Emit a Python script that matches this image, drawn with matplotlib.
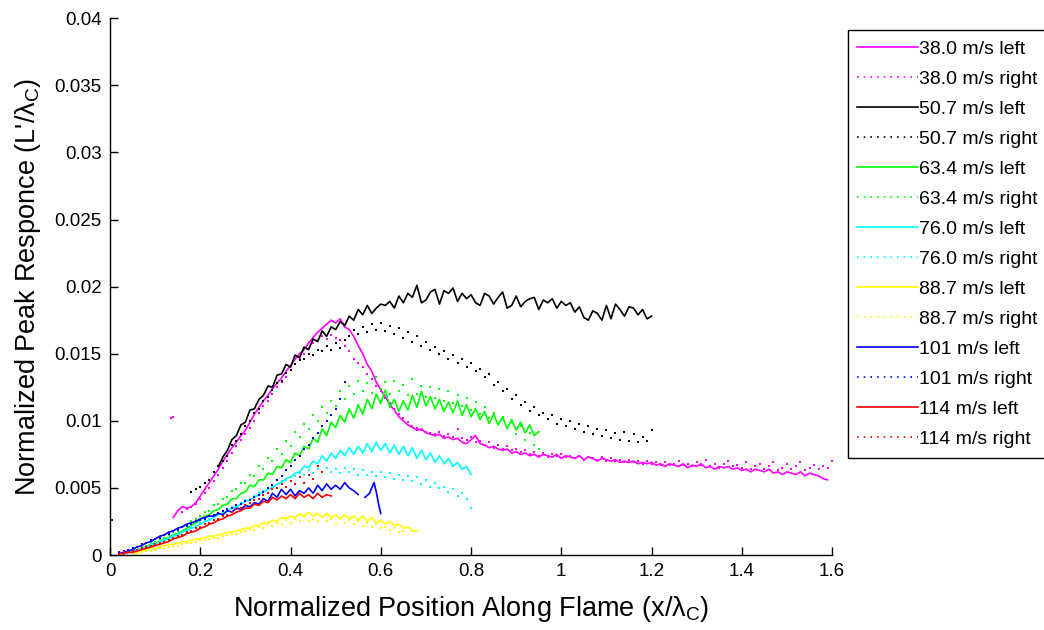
import numpy as np
import matplotlib
matplotlib.use("Agg")
import matplotlib.pyplot as plt
from matplotlib.lines import Line2D

plt.rcParams['font.family'] = ['Liberation Sans', 'DejaVu Sans']
plt.rcParams['mathtext.fontset'] = 'custom'
plt.rcParams['mathtext.rm'] = 'Liberation Sans'

# ---------------- data (y values in units of 1e-3, x grid step 0.01) ----------------
STEP = 0.01

m_left_x0 = 0.14
m_left = [2.8, 3.3, 3.6, 3.5, 3.6, 3.9, 4.4, 4.9, 5.4, 5.9, 6.4, 7.0, 7.5, 8.0, 8.4, 8.9, 9.3,
          9.9, 10.5, 11.0, 11.5, 11.9, 12.4, 12.8, 13.2, 13.7, 14.1, 14.6, 15.0, 15.3, 15.8, 16.2,
          16.6, 16.9, 17.2, 17.5, 17.3, 17.6, 17.0, 16.8, 16.3, 15.6, 15.0, 14.2, 13.7, 12.9, 12.3,
          11.8, 11.2, 10.8, 10.3, 10.0, 9.7, 9.5, 9.3, 9.4, 9.1, 9.0, 8.9, 9.0, 8.7, 8.8, 8.6, 8.7,
          8.4, 8.3, 8.6, 8.9, 8.3, 8.2, 8.0, 8.1, 7.9, 7.8, 7.9, 7.6, 7.7, 7.5, 7.6, 7.4, 7.5, 7.3,
          7.5, 7.4, 7.3, 7.5, 7.2, 7.4, 7.3, 7.2, 7.4, 7.1, 7.3, 7.2, 7.0, 7.2, 7.1, 7.0, 7.1, 6.9,
          7.0, 6.9, 7.0, 6.8, 6.9, 6.8, 6.9, 6.7, 6.8, 6.6, 6.8, 6.7, 6.6, 6.8, 6.5, 6.7, 6.6, 6.8,
          6.5, 6.6, 6.4, 6.6, 6.5, 6.6, 6.4, 6.5, 6.3, 6.4, 6.2, 6.4, 6.3, 6.2, 6.4, 6.1, 6.2, 6.0,
          6.2, 6.1, 6.0, 6.2, 5.9, 6.1, 6.0, 5.9, 5.7, 5.6]

m_right_x0 = 0.16
m_right = [3.2, 3.4, 3.6, 3.8, 4.2, 4.6, 5.0, 5.5, 6.0, 6.5, 7.0, 7.6, 8.1, 8.6, 9.0, 9.5, 10.0,
           10.6, 11.1, 11.5, 12.0, 12.5, 12.9, 13.3, 13.8, 14.2, 14.6, 15.0, 15.4, 15.8, 16.0, 16.3,
           16.1, 16.4, 16.2, 16.0, 15.6, 15.2, 14.6, 14.3, 14.0, 13.5, 13.1, 12.6, 12.2, 11.7, 11.3,
           10.9, 10.5, 10.2, 9.9, 9.6, 9.5, 9.3, 9.2, 9.1, 9.0, 9.2, 8.9, 9.0, 8.8, 9.4, 8.7, 8.6,
           8.8, 8.4, 8.5, 8.2, 8.4, 8.0, 8.2, 7.9, 8.1, 7.8, 7.9, 7.7, 7.8, 7.5, 7.7, 7.4, 7.6, 7.3,
           7.5, 7.4, 7.5, 7.3, 7.4, 7.2, 7.4, 7.1, 7.3, 7.2, 7.1, 7.3, 7.0, 7.2, 7.0, 7.1, 6.9, 7.1,
           6.9, 7.0, 6.8, 7.0, 6.8, 6.9, 6.7, 6.9, 6.7, 6.8, 7.0, 6.7, 6.8, 6.6, 6.9, 6.7, 7.1, 6.6,
           6.8, 6.5, 6.8, 7.0, 6.6, 6.7, 6.5, 6.9, 6.4, 6.6, 6.8, 6.4, 6.6, 6.9, 6.3, 6.5, 6.8, 6.4,
           6.6, 6.9, 6.3, 6.5, 6.7, 6.4, 6.6, 6.5, 7.0]
m_right_extra_x = [0.135, 0.14]
m_right_extra = [10.2, 10.3]

k_left_x0 = 0.24
k_left = [6.6, 7.3, 7.8, 8.6, 8.9, 9.7, 9.9, 10.8, 10.9, 11.6, 11.9, 12.6, 12.5, 13.4, 13.5, 14.2,
          14.0, 14.9, 14.7, 15.5, 15.3, 16.1, 15.9, 16.7, 16.3, 17.0, 16.8, 17.4, 17.1, 17.8, 17.5,
          18.3, 17.9, 18.6, 18.0, 18.4, 18.7, 18.6, 18.9, 18.4, 19.3, 18.8, 19.5, 19.2, 20.1, 18.8,
          19.0, 19.6, 19.8, 18.7, 19.7, 19.5, 19.9, 18.9, 19.5, 19.1, 19.4, 18.8, 18.6, 19.5, 19.3,
          18.7, 19.2, 19.6, 18.4, 18.6, 19.3, 18.5, 18.9, 19.1, 19.2, 18.3, 19.0, 18.8, 19.1, 18.4,
          18.9, 18.6, 18.8, 18.1, 18.5, 17.7, 17.5, 18.2, 18.0, 17.5, 18.6, 17.6, 18.7, 18.3, 17.8,
          18.5, 18.4, 17.9, 18.3, 17.6, 17.8]

k_right_x0 = 0.18
k_right = [4.7, 4.9, 5.1, 5.4, 5.6, 6.2, 6.6, 7.0, 7.4, 8.2, 8.5, 9.0, 9.6, 10.0, 10.6, 10.9, 11.5,
           11.8, 12.3, 12.8, 13.0, 13.6, 13.8, 14.2, 14.5, 14.6, 15.0, 14.9, 15.3, 15.2, 15.6, 15.3,
           15.8, 15.4, 16.0, 16.3, 16.8, 16.5, 17.0, 16.6, 17.2, 16.8, 17.3, 16.7, 17.1, 16.5, 16.9,
           16.2, 16.6, 15.9, 16.3, 15.6, 15.9, 15.3, 15.5, 15.0, 15.2, 14.6, 14.9, 14.3, 14.6, 14.0,
           14.3, 13.7, 13.9, 13.3, 13.5, 12.7, 12.9, 12.2, 12.4, 11.6, 11.9, 11.2, 11.4, 10.7, 11.0,
           10.4, 10.6, 10.1, 10.4, 9.8, 10.1, 9.6, 10.0, 9.4, 9.8, 9.2, 9.6, 9.0, 9.4, 8.9, 9.3, 8.7,
           9.1, 8.6, 9.2, 8.5, 9.0, 8.4, 8.8, 8.5, 9.3]

g_left_x0 = 0.03
g_left = [0.1, 0.2, 0.3, 0.4, 0.5, 0.6, 0.8, 0.9, 1.0, 1.2, 1.3, 1.5, 1.6, 1.8, 2.0, 2.2, 2.4, 2.6,
          2.9, 3.0, 3.3, 3.4, 3.7, 3.8, 4.2, 4.2, 4.6, 4.7, 5.2, 5.1, 5.6, 5.6, 6.1, 6.0, 6.6, 6.5,
          7.1, 6.9, 7.6, 7.4, 8.1, 7.9, 8.7, 8.4, 9.4, 8.9, 9.9, 9.5, 10.4, 9.9, 10.9, 10.2, 11.2,
          10.5, 11.6, 10.9, 12.0, 11.3, 12.3, 11.0, 11.6, 10.7, 11.5, 10.8, 11.9, 11.0, 12.2, 11.1,
          11.8, 10.9, 11.6, 10.7, 11.4, 10.6, 11.5, 10.4, 11.2, 10.3, 10.9, 10.1, 10.7, 9.8, 10.5,
          9.7, 10.3, 9.4, 10.1, 9.3, 9.9, 9.1, 9.7, 8.9, 9.2]

g_right_x0 = 0.05
g_right = [0.3, 0.4, 0.6, 0.7, 0.9, 1.0, 1.2, 1.3, 1.5, 1.7, 1.8, 2.1, 2.2, 2.5, 2.7, 2.9, 3.2, 3.3,
           3.7, 3.8, 4.2, 4.3, 4.8, 4.9, 5.4, 5.4, 6.0, 5.9, 6.6, 6.4, 7.2, 7.0, 7.9, 7.5, 8.5, 8.1,
           9.2, 8.8, 9.8, 9.4, 10.4, 10.0, 11.0, 10.6, 11.5, 11.1, 12.2, 11.6, 12.6, 12.0, 13.0,
           12.2, 12.8, 12.1, 13.3, 12.4, 12.9, 12.0, 13.0, 12.2, 12.7, 11.9, 13.1, 12.0, 12.6, 11.8,
           12.5, 11.7, 12.4, 11.5, 12.2, 11.3, 11.9, 11.1, 11.7, 10.8, 11.4, 10.5, 11.0, 10.2, 10.6,
           9.8, 10.3, 9.5, 9.9, 9.0, 9.6, 8.6, 9.1, 8.2, 7.9]

c_left_x0 = 0.03
c_left = [0.1, 0.2, 0.3, 0.4, 0.5, 0.6, 0.7, 0.8, 1.0, 1.1, 1.2, 1.4, 1.5, 1.7, 1.8, 2.0, 2.1, 2.3,
          2.5, 2.6, 2.8, 3.0, 3.1, 3.3, 3.5, 3.6, 3.8, 4.0, 4.1, 4.3, 4.5, 4.7, 4.9, 5.0, 5.3, 5.4,
          5.7, 5.8, 6.1, 6.2, 6.6, 6.5, 7.0, 6.8, 7.4, 7.0, 7.6, 7.2, 7.8, 7.4, 8.0, 7.5, 8.1, 7.6,
          8.3, 7.7, 8.4, 7.8, 8.3, 7.6, 8.2, 7.5, 8.1, 7.4, 8.0, 7.2, 7.8, 7.1, 7.6, 6.9, 7.4, 6.8,
          7.2, 6.6, 6.9, 6.4, 6.6, 6.0]

c_right_x0 = 0.05
c_right = [0.3, 0.4, 0.5, 0.6, 0.8, 0.9, 1.0, 1.2, 1.3, 1.5, 1.6, 1.8, 1.9, 2.1, 2.2, 2.4, 2.6, 2.7,
           2.9, 3.1, 3.2, 3.4, 3.6, 3.7, 3.9, 4.1, 4.2, 4.4, 4.6, 4.8, 5.0, 5.1, 5.3, 5.5, 5.6, 5.8,
           5.9, 6.1, 6.0, 6.3, 6.1, 6.4, 6.2, 6.5, 6.2, 6.4, 6.1, 6.5, 6.2, 6.4, 6.0, 6.3, 6.0, 6.2,
           5.9, 6.2, 5.8, 6.1, 5.7, 6.0, 5.6, 5.9, 5.5, 5.8, 5.3, 5.6, 5.1, 5.4, 5.0, 5.1, 4.7, 4.9,
           4.4, 4.6, 4.2, 3.5]

y_left_x0 = 0.05
y_left = [0.1, 0.2, 0.3, 0.4, 0.5, 0.5, 0.6, 0.7, 0.8, 0.8, 0.9, 1.0, 1.0, 1.1, 1.2, 1.2, 1.3, 1.4,
          1.4, 1.5, 1.6, 1.7, 1.7, 1.8, 1.9, 2.0, 2.0, 2.2, 2.2, 2.4, 2.4, 2.6, 2.5, 2.8, 2.7, 2.9,
          2.8, 3.1, 2.9, 3.2, 2.9, 3.1, 2.8, 3.1, 2.8, 3.0, 2.7, 3.0, 2.7, 2.9, 2.6, 2.9, 2.5, 2.8,
          2.4, 2.6, 2.3, 2.5, 2.2, 2.3, 2.0, 2.1, 1.8, 1.8]

y_right_x0 = 0.06
y_right = [0.1, 0.2, 0.3, 0.3, 0.4, 0.5, 0.5, 0.6, 0.7, 0.7, 0.8, 0.9, 0.9, 1.0, 1.1, 1.1, 1.2, 1.3,
           1.3, 1.4, 1.5, 1.6, 1.6, 1.7, 1.8, 1.9, 1.9, 2.1, 2.0, 2.3, 2.2, 2.4, 2.3, 2.6, 2.4, 2.7,
           2.5, 2.8, 2.5, 2.7, 2.5, 2.8, 2.5, 2.7, 2.4, 2.7, 2.4, 2.6, 2.3, 2.5, 2.2, 2.4, 2.1, 2.3,
           2.0, 2.1, 1.9, 2.0, 1.7, 1.8]

b_left_x0 = 0.02
b_left = [0.1, 0.2, 0.3, 0.4, 0.6, 0.7, 0.9, 1.0, 1.2, 1.4, 1.5, 1.7, 1.8, 2.0, 2.1, 2.3, 2.4, 2.5,
          2.7, 2.8, 2.9, 2.9, 3.1, 3.0, 3.3, 3.2, 3.5, 3.4, 3.7, 3.6, 3.9, 3.8, 4.2, 4.0, 4.6, 4.3,
          4.9, 4.5, 4.9, 4.4, 4.8, 4.6, 5.0, 4.6, 5.2, 4.8, 5.3, 4.9, 5.2, 4.9, 5.4, 5.0, 4.8, 4.5]
b_left2_x = [0.565, 0.575, 0.58, 0.585, 0.59, 0.595, 0.60]
b_left2 = [4.3, 4.6, 5.0, 5.4, 4.7, 3.8, 3.1]

b_right_x0 = 0.02
b_right = [0.2, 0.3, 0.4, 0.5, 0.6, 0.8, 0.9, 1.1, 1.2, 1.3, 1.5, 1.6, 1.8, 1.9, 2.1, 2.2, 2.3, 2.5,
           2.6, 2.7, 2.9, 3.0, 3.1, 3.3, 3.4, 3.5, 3.7, 3.8, 4.0, 4.1, 4.3, 4.5, 4.7, 5.0, 5.2, 5.6,
           5.9, 6.3, 6.6, 7.1, 7.4, 7.9, 8.2, 8.7, 9.1, 9.6, 10.0, 10.4, 10.9, 11.6, 12.9]
b_right_extra_x = [0.005]
b_right_extra = [2.6]

r_left_x0 = 0.02
r_left = [0.1, 0.1, 0.2, 0.2, 0.3, 0.4, 0.5, 0.6, 0.7, 0.8, 0.9, 1.0, 1.2, 1.3, 1.4, 1.6, 1.7, 1.8,
          2.0, 2.1, 2.3, 2.4, 2.6, 2.7, 2.9, 3.0, 3.2, 3.3, 3.5, 3.5, 3.8, 3.7, 4.0, 3.9, 4.3, 4.1,
          4.4, 4.2, 4.5, 4.2, 4.6, 4.3, 4.5, 4.2, 4.6, 4.3, 4.5, 4.4]

r_right_x0 = 0.02
r_right = [0.1, 0.2, 0.2, 0.3, 0.4, 0.5, 0.6, 0.7, 0.8, 0.9, 1.0, 1.1, 1.3, 1.4, 1.5, 1.7, 1.8, 2.0,
           2.1, 2.3, 2.4, 2.6, 2.7, 2.9, 3.0, 3.2, 3.4, 3.5, 3.7, 3.9, 4.1, 4.2, 4.5, 4.6, 4.9, 5.0,
           5.3, 5.1, 5.5, 5.3, 5.8, 5.4, 6.0, 5.7, 6.6, 6.2]

labels = ["38.0 m/s left", "38.0 m/s right", "50.7 m/s left", "50.7 m/s right",
          "63.4 m/s left", "63.4 m/s right", "76.0 m/s left", "76.0 m/s right",
          "88.7 m/s left", "88.7 m/s right", "101 m/s left", "101 m/s right",
          "114 m/s left", "114 m/s right"]
colors = ["#ff00ff", "#000000", "#00ff00", "#00ffff", "#ffff00", "#0000ff", "#ff0000"]

x_ticks = [0, 0.2, 0.4, 0.6, 0.8, 1, 1.2, 1.4, 1.6]
x_ticklabels = ["0", "0.2", "0.4", "0.6", "0.8", "1", "1.2", "1.4", "1.6"]
y_ticks = [0, 0.005, 0.01, 0.015, 0.02, 0.025, 0.03, 0.035, 0.04]
y_ticklabels = ["0", "0.005", "0.01", "0.015", "0.02", "0.025", "0.03", "0.035", "0.04"]


def grid(x0, vals):
    return np.round(x0 + STEP * np.arange(len(vals)), 4)


def milli(vals):
    return np.asarray(vals, dtype=float) * 1e-3


fig = plt.figure(figsize=(10.44, 6.30), dpi=100)
ax = fig.add_axes([0.1054, 0.119, 0.6916, 0.852])

lw = 1.2
ms = 1.8
left_series = [(m_left_x0, m_left), (k_left_x0, k_left), (g_left_x0, g_left),
               (c_left_x0, c_left), (y_left_x0, y_left), (b_left_x0, b_left),
               (r_left_x0, r_left)]
right_series = [(m_right_x0, m_right), (k_right_x0, k_right), (g_right_x0, g_right),
                (c_right_x0, c_right), (y_right_x0, y_right), (b_right_x0, b_right),
                (r_right_x0, r_right)]

for i, ((x0l, yl), (x0r, yr)) in enumerate(zip(left_series, right_series)):
    col = colors[i]
    ax.plot(grid(x0r, yr), milli(yr), ls='none', marker='s', ms=ms, mew=0, color=col)
    ax.plot(grid(x0l, yl), milli(yl), ls='-', lw=lw, color=col)

ax.plot(m_right_extra_x, milli(m_right_extra), ls='none', marker='s', ms=ms, mew=0, color=colors[0])
ax.plot(b_right_extra_x, milli(b_right_extra), ls='none', marker='s', ms=ms, mew=0, color=colors[5])
ax.plot(b_left2_x, milli(b_left2), ls='-', lw=lw, color=colors[5])

ax.set_xlim(0, 1.6)
ax.set_ylim(0, 0.04)
ax.set_xticks(x_ticks)
ax.set_xticklabels(x_ticklabels)
ax.set_yticks(y_ticks)
ax.set_yticklabels(y_ticklabels)
ax.tick_params(direction='in', length=6, width=1, labelsize=13.5, pad=6)
for s in ['top', 'right']:
    ax.spines[s].set_visible(False)
for s in ['left', 'bottom']:
    ax.spines[s].set_linewidth(1)

ax.set_xlabel("Normalized Position Along Flame (x/λ$_\\mathregular{C}$)", fontsize=19.5, labelpad=10)
ax.set_ylabel("Normalized Peak Responce (L'/λ$_\\mathregular{C}$)", fontsize=19.5, labelpad=8)

handles = []
for i in range(7):
    handles.append(Line2D([], [], color=colors[i], lw=1.2, ls='-'))
    handles.append(Line2D([], [], color=colors[i], lw=1.2, ls=(0, (1, 3))))
leg = fig.legend(handles, labels, loc='upper left', bbox_to_anchor=(0.812, 0.952),
                 fontsize=14, frameon=True, fancybox=False, framealpha=1,
                 edgecolor='black', handlelength=3.1, handletextpad=0.05,
                 labelspacing=0.64, borderpad=0.5, borderaxespad=0)
leg.get_frame().set_linewidth(1)

fig.savefig("out.png", dpi=100)
